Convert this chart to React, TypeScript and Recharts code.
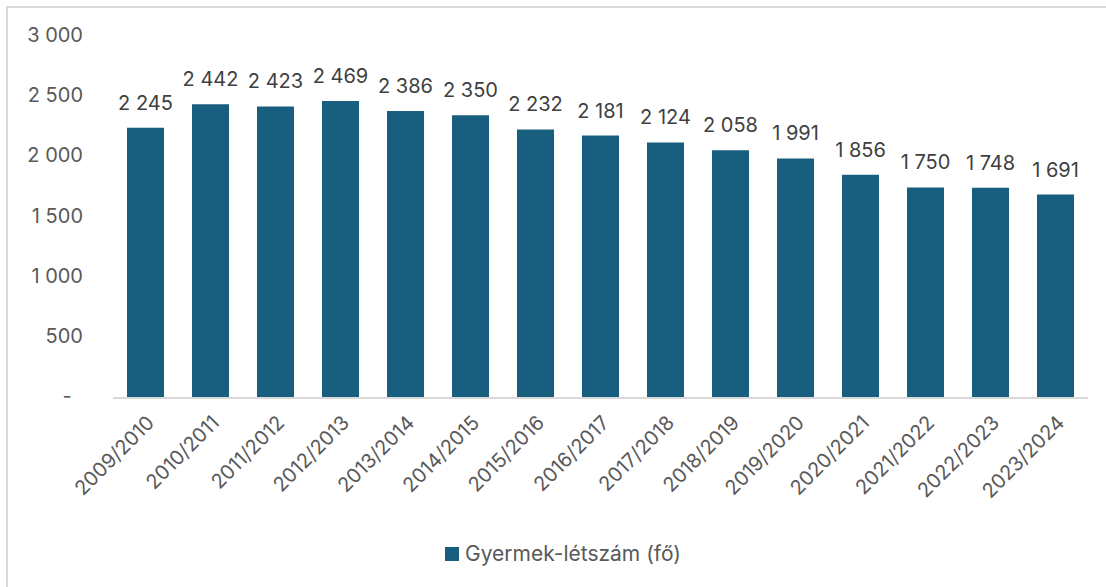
import { BarChart, Bar, XAxis, YAxis, LabelList, Legend } from "recharts";

const years = [
  "2009/2010",
  "2010/2011",
  "2011/2012",
  "2012/2013",
  "2013/2014",
  "2014/2015",
  "2015/2016",
  "2016/2017",
  "2017/2018",
  "2018/2019",
  "2019/2020",
  "2020/2021",
  "2021/2022",
  "2022/2023",
  "2023/2024",
];
const children = [2245, 2442, 2423, 2469, 2386, 2350, 2232, 2181, 2124, 2058, 1991, 1856, 1750, 1748, 1691];
const yTicks = [0, 500, 1000, 1500, 2000, 2500, 3000];

const seriesName = "Gyermek-létszám (fő)";
const barColor = "#175e7f";
const font = "Inter, Roboto, sans-serif";

const data = years.map((y, i) => ({ year: y, value: children[i] }));

// Hungarian thousands separator (space)
const hu = (v: number) => String(v).replace(/\B(?=(\d{3})+(?!\d))/g, "\u00a0");

const LegendContent = () => (
  <div
    style={{
      display: "flex",
      alignItems: "center",
      justifyContent: "center",
      fontFamily: font,
      fontSize: 21,
      color: "#595959",
      paddingLeft: 12,
    }}>
    <span style={{ width: 14, height: 14, background: barColor, marginRight: 6, display: "inline-block" }} />
    {seriesName}
  </div>
);

const App = () => {
  return (
    <div
      style={{
        position: "absolute",
        left: 6,
        top: 6,
        width: 1100,
        height: 581,
        borderTop: "2px solid #d9d9d9",
        borderLeft: "2px solid #d9d9d9",
        background: "#fff",
      }}>
      <BarChart
        width={1098}
        height={579}
        data={data}
        margin={{ top: 29, right: 18, left: 0, bottom: 79 }}
        style={{ fontFamily: font }}>
        <XAxis
          dataKey="year"
          interval={0}
          axisLine={{ stroke: "#d9d9d9", strokeWidth: 2 }}
          tickLine={false}
          tickSize={0}
          tickMargin={16}
          angle={-45}
          textAnchor="end"
          height={110}
          tick={{ fill: "#595959", fontSize: 20 }}
        />
        <YAxis
          domain={[0, 3000]}
          ticks={yTicks}
          width={105}
          axisLine={false}
          tickLine={false}
          tickSize={0}
          tickMargin={30}
          tick={{ fill: "#595959", fontSize: 20, dy: -2 }}
          tickFormatter={(v: number) => (v === 0 ? "-\u00a0\u00a0" : hu(v))}
        />
        <Legend verticalAlign="middle" content={LegendContent} wrapperStyle={{ top: 533, left: 0, width: 1098 }} />
        <Bar dataKey="value" name={seriesName} fill={barColor} barSize={37} isAnimationActive={false}>
          <LabelList
            dataKey="value"
            position="top"
            offset={18}
            formatter={(v: number) => hu(v)}
            style={{ fill: "#404040", fontSize: 20, fontFamily: font }}
          />
        </Bar>
      </BarChart>
    </div>
  );
};

export default App;
